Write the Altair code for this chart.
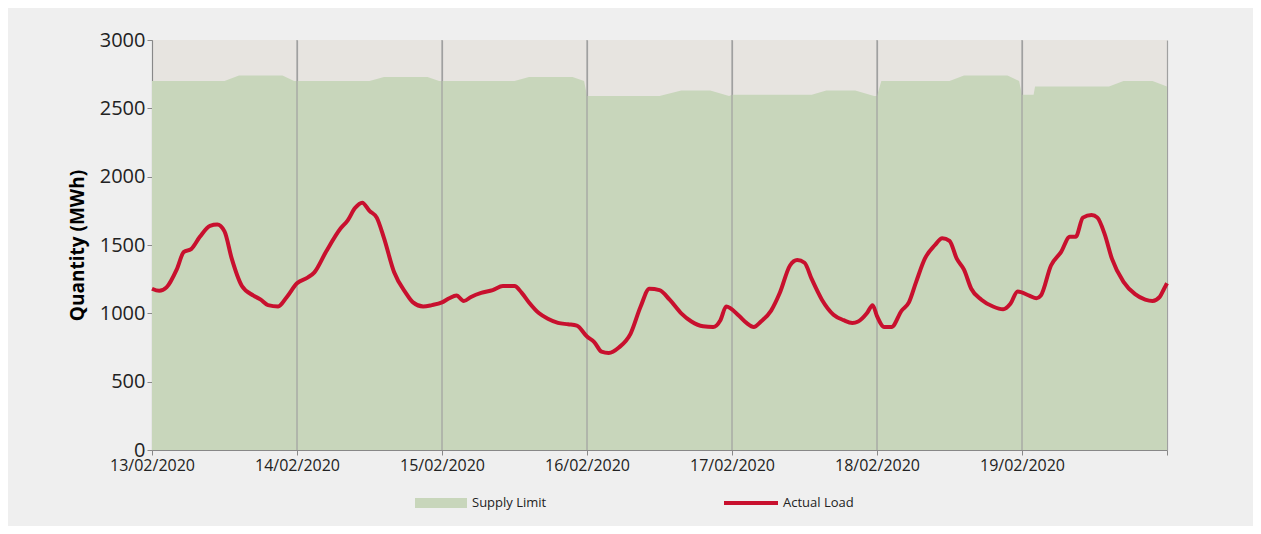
import altair as alt
import pandas as pd

dates = ["13/02/2020", "14/02/2020", "15/02/2020", "16/02/2020",
         "17/02/2020", "18/02/2020", "19/02/2020"]

# actual load: (day offset, MWh)
load_day = [0, .05, .1, .17, .22, .27, .33, .4, .45, .5, .55, .62, .7, .75, .8, .87, .93,
            1.0, 1.07, 1.12, 1.2, 1.3, 1.35, 1.4, 1.45, 1.5, 1.55, 1.6, 1.67, 1.75, 1.8, 1.87, 1.93,
            2.0, 2.05, 2.1, 2.15, 2.2, 2.27, 2.35, 2.42, 2.5, 2.55, 2.6, 2.67, 2.73, 2.8, 2.87, 2.93,
            3.0, 3.05, 3.1, 3.15, 3.22, 3.3, 3.37, 3.43, 3.5, 3.57, 3.65, 3.72, 3.8, 3.87, 3.92, 3.96,
            4.05, 4.1, 4.15, 4.2, 4.27, 4.33, 4.4, 4.45, 4.5, 4.55, 4.62, 4.7, 4.77, 4.83, 4.87, 4.93, 4.97,
            5.0, 5.05, 5.1, 5.17, 5.22, 5.27, 5.33, 5.4, 5.45, 5.5, 5.55, 5.6, 5.65, 5.72, 5.8, 5.87, 5.92, 5.97,
            6.05, 6.1, 6.13, 6.2, 6.27, 6.33, 6.37, 6.42, 6.48, 6.52, 6.57, 6.62, 6.7, 6.78, 6.85, 6.9, 6.95, 6.98, 7.0]
load_val = [1180, 1165, 1190, 1320, 1450, 1470, 1560, 1640, 1650, 1600, 1400, 1200, 1130, 1100, 1060, 1050, 1120,
            1220, 1260, 1300, 1450, 1620, 1680, 1770, 1810, 1750, 1700, 1550, 1300, 1150, 1080, 1050, 1060,
            1080, 1110, 1130, 1090, 1120, 1150, 1170, 1200, 1200, 1150, 1080, 1000, 960, 930, 920, 910,
            830, 790, 720, 710, 750, 850, 1050, 1180, 1170, 1100, 1000, 940, 905, 900, 950, 1050,
            980, 930, 900, 940, 1020, 1150, 1350, 1390, 1370, 1250, 1100, 990, 950, 930, 940, 1000, 1060,
            980, 900, 900, 1020, 1080, 1230, 1400, 1500, 1550, 1530, 1400, 1320, 1180, 1100, 1050, 1030, 1070, 1160,
            1130, 1110, 1130, 1350, 1450, 1560, 1560, 1700, 1720, 1700, 1580, 1400, 1230, 1140, 1100, 1090, 1120, 1180, 1220]

# supply limit: (day offset, MWh)
supply_day = [0, .5, .6, .9, .98, 1.0, 1.5, 1.6, 1.9, 1.98, 2.0, 2.5, 2.6, 2.9, 2.98,
              3.0, 3.5, 3.65, 3.85, 3.98, 4.0, 4.55, 4.65, 4.85, 4.98, 5.0, 5.03, 5.5, 5.6, 5.9, 5.98,
              6.0, 6.08, 6.09, 6.6, 6.7, 6.9, 7.0]
supply_val = [2700, 2700, 2740, 2740, 2700, 2700, 2700, 2730, 2730, 2700, 2700, 2700, 2730, 2730, 2700,
              2590, 2590, 2630, 2630, 2590, 2600, 2600, 2630, 2630, 2590, 2590, 2700, 2700, 2740, 2740, 2700,
              2600, 2600, 2660, 2660, 2700, 2700, 2660]

legend_labels = ["Supply Limit", "Actual Load"]

load_df = pd.DataFrame({"day": load_day, "value": load_val})
supply_df = pd.DataFrame({"day": supply_day, "value": supply_val})

label_expr = "datum.value < 7 ? " + str(dates) + "[datum.value] : ''"

x = alt.X("day:Q", scale=alt.Scale(domain=[0, 7], nice=False),
          axis=alt.Axis(values=list(range(8)), labelExpr=label_expr, title=None, grid=True, zindex=0,
                        gridColor="#a0a0a0", gridWidth=1.2, domainColor="#888", tickColor="#888",
                        labelFontSize=16, labelColor="#222", labelFont="Open Sans", labelPadding=2,
                        labelAlign="center", labelFlush=False, labelOverlap=False))
y_scale = alt.Scale(domain=[0, 3000], nice=False)

supply = alt.Chart(supply_df).mark_area(color="#c8d6bb", opacity=1).encode(
    x=x,
    y=alt.Y("value:Q", scale=y_scale,
            axis=alt.Axis(values=list(range(0, 3001, 500)), format="d", title="Quantity (MWh)", grid=False,
                          titleFontSize=19, titleFont="Open Sans", titleFontWeight="bold",
                          labelFontSize=20, labelFont="Open Sans", labelColor="#222",
                          domainColor="#888", tickColor="#888", titlePadding=12)),
)

# gridlines drawn over the area, like the reference
grid = alt.Chart(pd.DataFrame({"day": list(range(1, 7))})).mark_rule(color="#a0a0a0", strokeWidth=1.2).encode(
    x="day:Q")

load = alt.Chart(load_df).mark_line(color="#c8102e", strokeWidth=4, interpolate="monotone").encode(
    x="day:Q", y="value:Q"
)

legend_df = pd.DataFrame({"label": legend_labels})
leg_rect = alt.Chart(legend_df).transform_filter("datum.label == 'Supply Limit'").mark_rect(color="#c8d6bb").encode(
    x=alt.value(263), x2=alt.value(315), y=alt.value(458), y2=alt.value(468))
leg_line = alt.Chart(legend_df).transform_filter("datum.label == 'Actual Load'").mark_rule(color="#c8102e", strokeWidth=4).encode(
    x=alt.value(572), x2=alt.value(626), y=alt.value(463))
leg_text1 = alt.Chart(legend_df).transform_filter("datum.label == 'Supply Limit'").mark_text(
    align="left", fontSize=13, font="Open Sans", color="#222").encode(
    x=alt.value(320), y=alt.value(463), text="label:N")
leg_text2 = alt.Chart(legend_df).transform_filter("datum.label == 'Actual Load'").mark_text(
    align="left", fontSize=13, font="Open Sans", color="#222").encode(
    x=alt.value(631), y=alt.value(463), text="label:N")

chart = alt.layer(supply, grid, load, leg_rect, leg_line, leg_text1, leg_text2).properties(
    width=1015, height=410,
    autosize=alt.AutoSizeParams(type="none"),
    padding={"left": 144, "top": 32, "right": 86, "bottom": 76},
    background="#efefef",
).configure_view(fill="#e7e4e0", stroke=None)

chart.save("out.html", embed_options={"renderer": "svg", "actions": False})
